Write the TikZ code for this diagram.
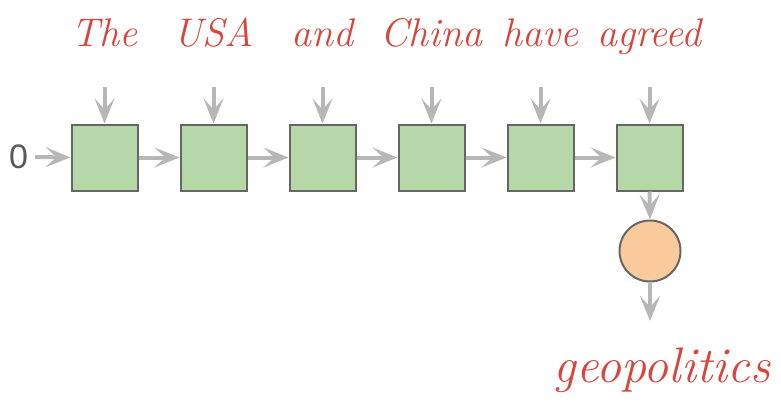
\documentclass[tikz,border=0pt]{standalone}
\usepackage{fontspec}
\newfontfamily\zerofont{Liberation Sans}
\usetikzlibrary{arrows.meta}
\definecolor{wordred}{HTML}{D8453B}
\definecolor{cellgreen}{HTML}{B6D7A8}
\definecolor{outorange}{HTML}{F9CB9C}
\definecolor{bordergray}{HTML}{666666}
\definecolor{arrowgray}{HTML}{B7B7B7}
\definecolor{zerogray}{HTML}{595959}
\tikzset{
  cell/.style={draw=bordergray, line width=2pt, fill=cellgreen, minimum size=66pt, inner sep=0pt},
  outcell/.style={circle, draw=bordergray, line width=2pt, fill=outorange, minimum size=61pt, inner sep=0pt},
  conn/.style={draw=arrowgray, line width=4pt, -{Stealth[length=25pt 0 0, width=20pt 0 0, inset=11pt 0]}},
  word/.style={text=wordred, font=\fontsize{40}{44}\selectfont\itshape, anchor=base, inner sep=0pt},
  bigword/.style={text=wordred, font=\fontsize{50}{54}\selectfont\itshape, anchor=base, inner sep=0pt},
}
\begin{document}
\begin{tikzpicture}[x=1pt, y=-1pt]
\useasboundingbox (0,0) rectangle (781,402);
% cells
\foreach \i/\w in {1/The, 2/USA, 3/and, 4/China, 5/have, 6/agreed} {
  \node[cell] (c\i) at ({104.5+109*(\i-1)}, 157.5) {};
  \node[word] (w\i) at ({104.5+109*(\i-1)}, 46) {\w};
  \coordinate (in\i) at ({104.5+109*(\i-1)}, 87);
  \draw[conn] (in\i) -- (c\i.north);
}
\node[text=zerogray, font=\zerofont\fontsize{34}{36}\selectfont, inner sep=0pt] (zero) at (18.5,157) {0};
\draw[conn] ([xshift=7pt]zero.east) -- (c1.west);
\foreach \i/\j in {1/2, 2/3, 3/4, 4/5, 5/6} {
  \draw[conn] (c\i.east) -- (c\j.west);
}
\node[outcell] (out) at (650, 251) {};
\draw[conn] (c6.south) -- (out.north);
\coordinate (outend) at (650, 321);
\draw[conn] (out.south) -- (outend);
\node[bigword] (res) at (662, 382) {geopolitics};
\end{tikzpicture}
\end{document}
